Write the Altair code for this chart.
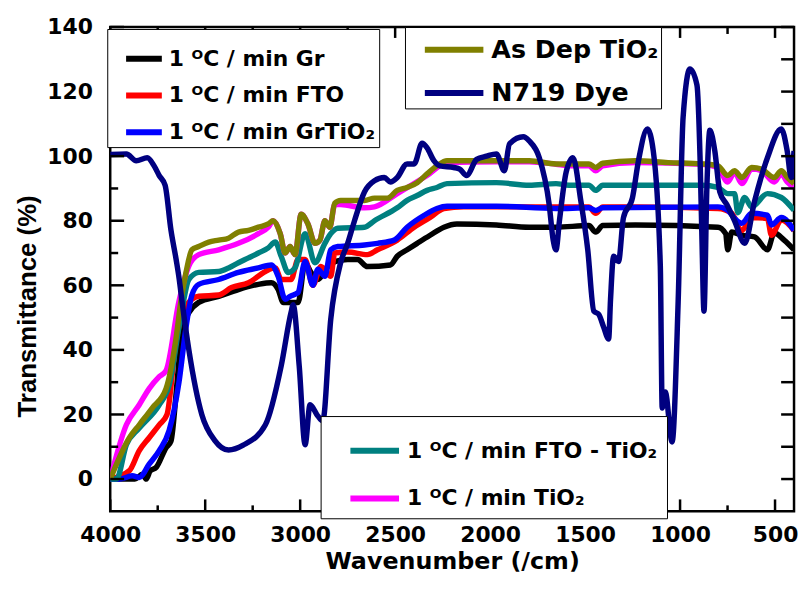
import altair as alt
import pandas as pd

# ---------------- data ----------------
L_GR = "1 ᴼC / min Gr"
L_FTO = "1 ᴼC / min FTO"
L_GRTIO2 = "1 ᴼC / min GrTiO₂"
L_FTOTIO2 = "1 ᴼC / min FTO - TiO₂"
L_TIO2 = "1 ᴼC / min TiO₂"
L_ASDEP = "As Dep TiO₂"
L_DYE = "N719 Dye"

gr_wn = [4000, 3870, 3830, 3810, 3790, 3758, 3706, 3680, 3648, 3622, 3586, 3534, 3429, 3325, 3220,
         3152, 3116, 3089, 3011, 2974, 2943, 2907, 2855, 2813, 2750, 2698, 2646, 2525, 2489, 2437,
         2384, 2316, 2243, 2175, 1967, 1794, 1653, 1480, 1444, 1407, 1235, 801, 760, 749, 728, 675,
         608, 540, 504, 452, 400]
gr_t = [0, 0, 1.5, 0, 2.5, 3.6, 9.7, 11.8, 30, 46.5, 51.5, 54.7, 56.6, 58.7, 60.3,
        60.8, 58.7, 54.7, 54.7, 67, 64, 61.8, 65.8, 67.4, 68, 68, 65.8, 66.3, 69, 71,
        73, 75.5, 78, 79, 78.7, 78, 78, 78.5, 76.5, 78.5, 78.7, 78, 76, 71, 76.5, 75.5,
        75, 71, 76.2, 74, 71]

fto_wn = [4000, 3899, 3847, 3795, 3742, 3701, 3654, 3601, 3534, 3429, 3361, 3272, 3183, 3131, 3100,
          3048, 3011, 2974, 2933, 2891, 2839, 2818, 2750, 2646, 2593, 2489, 2400, 2316, 2243, 2139,
          1967, 1794, 1653, 1480, 1444, 1407, 1235, 801, 728, 675, 623, 540, 519, 467, 400]
fto_t = [0, 2.6, 8.8, 12.8, 16.8, 20, 42.5, 53.6, 56.6, 57, 59.3, 60.8, 64.3, 65.4, 61.8,
         61.8, 68, 68, 60, 65.8, 62.8, 70, 70.3, 69.5, 71, 74, 78, 81, 83.8, 84.3,
         84.3, 84.3, 84.3, 84.3, 82.3, 84.3, 84.3, 83.8, 82.3, 77, 81, 80.7, 75.5, 80.2, 77]

grtio2_wn = [4000, 3951, 3884, 3847, 3795, 3742, 3690, 3638, 3601, 3570, 3534, 3429, 3325, 3220, 3152,
             3116, 3079, 3053, 3011, 2974, 2933, 2907, 2870, 2839, 2802, 2661, 2593, 2505, 2437, 2347,
             2280, 2227, 1967, 1653, 1480, 1444, 1407, 801, 749, 713, 675, 623, 540, 519, 467, 400]
grtio2_t = [0, 0, 1, 0.5, 4.6, 8.8, 15, 30, 47, 57, 60.3, 61.8, 64, 65.4, 66.3,
            62.8, 55.7, 56.6, 57.8, 67.4, 60, 65, 62.8, 71, 72, 72.5, 73, 74, 78, 81.7,
            83.8, 84.5, 84.5, 83.8, 84, 83.2, 84, 84.3, 83.2, 80.7, 79.2, 82.3, 81.7, 78.7, 81, 77]

ftotio2_wn = [4000, 3967, 3915, 3847, 3742, 3690, 3628, 3586, 3534, 3429, 3377, 3325, 3272, 3220, 3168,
              3131, 3100, 3063, 3027, 2974, 2922, 2870, 2839, 2802, 2661, 2609, 2489, 2437, 2384, 2332,
              2280, 2227, 1967, 1794, 1653, 1585, 1480, 1444, 1407, 1235, 885, 801, 749, 713, 696,
              660, 623, 540, 467, 400]
ftotio2_t = [0, 0, 10.6, 15.8, 23, 29, 50.5, 61.8, 64, 64.3, 65.4, 67, 68.5, 70, 71.6,
             73.4, 69, 64, 65.4, 76, 67, 73, 76, 77.7, 78, 80, 84, 86.3, 87.8, 89.4,
             90.3, 91.5, 91.8, 91, 91.5, 91, 91, 89.4, 91, 91, 91, 90.3, 88.4, 88.4, 82.5,
             87.2, 84.3, 88.4, 87.2, 83.2]

tio2_wn = [4000, 3915, 3847, 3795, 3742, 3706, 3638, 3586, 3534, 3429, 3325, 3220, 3168, 3142, 3105,
           3079, 3053, 3027, 2995, 2959, 2922, 2896, 2870, 2844, 2818, 2787, 2661, 2609, 2489, 2332,
           2227, 1967, 1794, 1653, 1585, 1480, 1444, 1407, 1235, 885, 801, 749, 713, 675, 623,
           571, 504, 467, 436, 400]
tio2_t = [0, 16.8, 23, 28, 31.7, 33.6, 55, 66, 69.5, 71, 73, 76, 78, 80, 76,
          70, 72, 69.5, 82, 79, 73, 74, 80, 78, 85, 85, 84, 84.3, 88.4, 94,
          98, 98.3, 98.3, 97.5, 97, 97, 95.5, 97, 98, 97.5, 96.5, 92, 95, 91.5, 96,
          95.5, 92, 94.5, 92, 90.3]

asdep_wn = [4000, 3899, 3847, 3779, 3706, 3654, 3628, 3601, 3570, 3534, 3481, 3429, 3377, 3325, 3272,
            3220, 3168, 3142, 3105, 3079, 3053, 3027, 2995, 2959, 2922, 2896, 2870, 2844, 2818, 2787,
            2661, 2609, 2541, 2489, 2437, 2384, 2332, 2280, 2227, 1967, 1794, 1653, 1585, 1480, 1444,
            1407, 1235, 1063, 885, 801, 749, 713, 675, 623, 571, 504, 467, 436, 400]
asdep_t = [0, 12.8, 16.8, 22, 28, 43.4, 55, 64, 71, 72, 73.4, 74, 74.6, 76.5, 77,
           78, 79, 80, 76, 70, 72, 69.5, 82, 79, 73, 74, 80, 78, 85.4, 86.3,
           86.3, 87, 87, 89.4, 90.3, 91.8, 94.5, 97, 98.6, 98.6, 98.6, 97.6, 97.6, 97.6, 96.5,
           97.8, 98.6, 98, 97.6, 97, 94, 95.5, 93.4, 96.5, 96, 93.4, 95.5, 93.4, 91.5]

dye_wn = [4000, 3915, 3863, 3805, 3769, 3742, 3711, 3680, 3653, 3637, 3622, 3586, 3518, 3450, 3377,
          3300, 3183, 3100, 3048, 3037, 3005, 2974, 2948, 2907, 2881, 2839, 2787, 2750, 2714, 2661,
          2609, 2557, 2525, 2489, 2437, 2400, 2358, 2332, 2296, 2264, 2191, 2160, 2124, 2071, 2019,
          1967, 1925, 1898, 1825, 1794, 1741, 1689, 1668, 1653, 1635, 1600, 1564, 1522, 1486, 1454,
          1428, 1402, 1376, 1366, 1350, 1324, 1298, 1251, 1219, 1172, 1141, 1104, 1094, 1078, 1042,
          1010, 984, 948, 911, 895, 885, 874, 859, 843, 817, 791, 754, 713, 660, 608,
          540, 467, 436, 415, 400]
dye_t = [100.5, 100.7, 98.6, 99.5, 97, 94, 91, 77, 68, 62, 55, 40, 20, 12, 9,
         10.5, 16.8, 35, 51.6, 54, 35, 10.6, 23, 19.5, 18, 49.5, 67, 73, 80, 89,
         92.4, 93.4, 92, 93.4, 97.6, 97.6, 104, 102.6, 98.6, 97, 96.5, 96, 94, 99, 100,
         100.7, 95.5, 103.8, 106, 104.7, 99.5, 85, 74, 71, 80, 95, 99.5, 86, 71, 52,
         51, 47, 43.4, 55.7, 69, 67.4, 81, 87, 98.6, 108.4, 101.6, 66, 22, 27, 11.5,
         55, 112, 127, 122, 100, 75, 52, 90, 108, 101.6, 89, 85, 80, 73, 86,
         99.5, 108.4, 101.6, 93.4, 101.6]

x_major = [4000, 3500, 3000, 2500, 2000, 1500, 1000, 500]
x_minor = [3750, 3250, 2750, 2250, 1750, 1250, 750]
y_major = [0, 20, 40, 60, 80, 100, 120, 140]
y_minor = [10, 30, 50, 70, 90, 110, 130]

# ---------------- layout / style ----------------
W, H = 689, 488
FONT = "DejaVu Sans"

xscale = alt.Scale(domain=[400, 4000], reverse=True, nice=False, zero=False)
yscale = alt.Scale(domain=[-10, 140], nice=False, zero=False)

xaxis = alt.Axis(values=x_major, format="d", ticks=False, tickSize=0, domain=False, grid=False,
                 labelFlush=False, labelOverlap=False,
                 labelFont=FONT, labelFontSize=22, labelFontWeight="bold", labelColor="black",
                 labelPadding=13, title="Wavenumber (/cm)", titleFont=FONT, titleFontSize=24,
                 titleFontWeight="bold", titleColor="black", titleBaseline="alphabetic", titleY=58)
yaxis = alt.Axis(values=y_major, format="d", ticks=False, tickSize=0, domain=False, grid=False,
                 labelFlush=False, labelOverlap=False,
                 labelFont=FONT, labelFontSize=22, labelFontWeight="bold", labelColor="black",
                 labelPadding=18, title="Transmittance (%)", titleFont="Liberation Sans",
                 titleFontSize=26, titleFontWeight="bold", titleColor="black",
                 titleBaseline="alphabetic", titleAngle=270, titleX=-75, titleY=281)

X = alt.X("wn:Q", scale=xscale, axis=xaxis)
Y = alt.Y("t:Q", scale=yscale, axis=yaxis)


def legend(x, y, size, fs, pad, rowpad, symoff, laboff, tfs):
    # blank title only reserves the top margin inside the framed box
    return alt.Legend(title=" ", titleFontSize=tfs, titlePadding=0,
                      titleFont=FONT, titleFontWeight="bold",
                      orient="none", legendX=x, legendY=y, symbolType="stroke",
                      symbolSize=size, symbolStrokeWidth=6, symbolOffset=symoff,
                      labelOffset=laboff, clipHeight=fs,
                      labelFont=FONT, labelFontSize=fs, labelFontWeight="bold",
                      labelColor="black", labelLimit=500, padding=pad, rowPadding=rowpad,
                      strokeColor="black", fillColor="white")


def group(names, colors, wns, ts, leg):
    layers = []
    for name, wn, t in zip(names, wns, ts):
        df = pd.DataFrame({"wn": wn, "t": t, "series": name})
        layers.append(
            alt.Chart(df).mark_line(strokeWidth=5.5, interpolate="monotone", clip=True,
                                    strokeJoin="round").encode(
                x=X, y=Y,
                color=alt.Color("series:N", scale=alt.Scale(domain=names, range=colors),
                                legend=leg, sort=names)))
    return alt.layer(*layers)


g1 = group([L_GR, L_FTO, L_GRTIO2], ["#000000", "#ff0000", "#0000ff"],
           [gr_wn, fto_wn, grtio2_wn], [gr_t, fto_t, grtio2_t],
           legend(-3, 2, 1296, 22, 4, 15, 12, 4, 15))
g2 = group([L_FTOTIO2, L_TIO2], ["#008080", "#ff00ff"],
           [ftotio2_wn, tio2_wn], [ftotio2_t, tio2_t],
           legend(212, 392, 2401, 22, 9, 26, 18, 5, 15))
g3 = group([L_ASDEP, L_DYE], ["#808000", "#000080"],
           [asdep_wn, dye_wn], [asdep_t, dye_t],
           legend(297, 0, 3481, 25.5, 2, 16.5, 15, 5, 8.25))


def vticks(vals, x1, x2):
    return alt.Chart(pd.DataFrame({"t": vals})).mark_rule(color="black", strokeWidth=2.5).encode(
        y=Y, x=alt.value(x1), x2=alt.value(x2))


def hticks(vals, y1, y2):
    return alt.Chart(pd.DataFrame({"wn": vals})).mark_rule(color="black", strokeWidth=2.5).encode(
        x=X, y=alt.value(y1), y2=alt.value(y2))


ticks = [
    vticks(y_major, 0, 14), vticks(y_minor, 0, 8),
    vticks(y_major, W, W - 13), vticks(y_minor, W, W - 13),
    hticks(x_major, H, H - 12), hticks(x_minor, H, H - 6),
    hticks(x_major, 0, 11), hticks(x_minor, 0, 7),
]

chart = alt.layer(g1, g2, g3, *ticks).resolve_scale(color="independent").properties(
    width=W, height=H,
    autosize=alt.AutoSizeParams(type="none"),
    padding={"left": 103, "top": 17, "right": 4, "bottom": 63},
).configure_view(stroke="black", strokeWidth=2.5)

chart.save("out.html", embed_options={"renderer": "svg", "actions": False})
